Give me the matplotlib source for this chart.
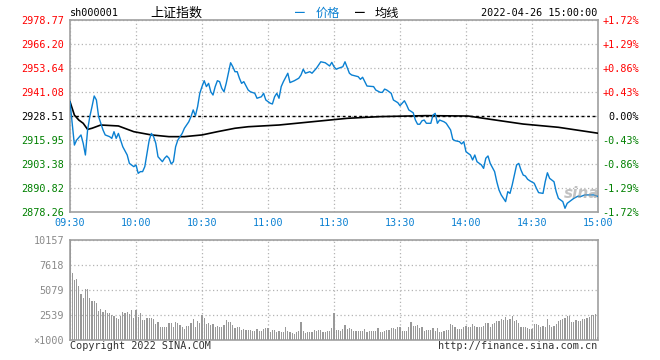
import numpy as np
import matplotlib.pyplot as plt

W, H = 660, 360
MONO = 'DejaVu Sans Mono'
CJK = ['Noto Sans CJK SC', 'DejaVu Sans']

RED = '#ff0000'
GREEN = '#008000'
BLUE = '#0a80d2'
GRID = '#b4b4b4'
FRAME = '#a0a0a0'

# axis values
prev_close = 2928.51
price_ticks = [2878.26, 2890.82, 2903.38, 2915.95, 2928.51, 2941.08, 2953.64, 2966.20, 2978.77]
pct_ticks = [-1.72, -1.29, -0.86, -0.43, 0.00, 0.43, 0.86, 1.29, 1.72]
pct_labels = ['-1.72%', '-1.29%', '-0.86%', '-0.43%', '0.00%', '+0.43%', '+0.86%', '+1.29%', '+1.72%']
time_ticks = [0, 30, 60, 90, 120, 150, 180, 210, 240]
time_labels = ['09:30', '10:00', '10:30', '11:00', '11:30', '13:30', '14:00', '14:30', '15:00']
vol_ticks = [0, 2539, 5079, 7618, 10157]
vol_labels = ['\u00d71000', '2539', '5079', '7618', '10157']

# price line (trading minute, price)
price_min = [0, 2, 3, 5, 6, 7, 8, 9, 10, 11, 12, 13, 14, 15, 16, 18, 19, 20, 21, 22,
             23, 24, 26, 27, 29, 30, 31, 32, 33, 34, 35, 36, 37, 38, 39, 40, 42, 43, 44, 45,
             46, 47, 48, 49, 51, 52, 54, 55, 56, 57, 58, 59, 60, 61, 62, 63, 64, 65, 66, 67,
             68, 69, 70, 71, 72, 73, 74, 75, 76, 77, 78, 79, 81, 82, 84, 85, 87, 88, 89, 91,
             92, 93, 94, 95, 96, 97, 99, 100, 102, 104, 105, 106, 107, 109, 110, 112, 114, 116, 118, 119,
             120, 121, 122, 124, 125, 127, 128, 131, 132, 133, 134, 135, 138, 139, 141, 142, 143, 144, 146, 147,
             149, 150, 151, 152, 153, 154, 156, 157, 158, 159, 160, 161, 162, 164, 165, 166, 167, 168, 170, 171,
             173, 174, 175, 177, 178, 179, 180, 182, 183, 184, 185, 187, 188, 189, 190, 191, 193, 194, 195, 196,
             198, 199, 200, 201, 202, 203, 204, 205, 206, 207, 208, 209, 211, 212, 213, 215, 216, 217, 218, 220,
             221, 222, 224, 225, 226, 228, 229, 231, 232, 234, 238, 240]
price_val = [2936.0, 2913.3, 2915.9, 2918.6, 2914.2, 2908.1, 2921.2, 2928.2, 2933.4, 2939.0,
             2936.9, 2928.2, 2924.7, 2921.2, 2918.6, 2917.7, 2916.8, 2920.3, 2916.8, 2919.4,
             2915.9, 2912.4, 2908.1, 2903.7, 2902.0, 2902.9, 2898.5, 2899.4, 2899.4, 2902.0,
             2909.0, 2915.9, 2919.4, 2917.7, 2914.2, 2907.2, 2904.6, 2906.4, 2907.6, 2906.4,
             2903.4, 2904.6, 2912.4, 2915.9, 2919.4, 2922.1, 2925.5, 2928.2, 2931.7, 2928.6,
             2933.4, 2940.4, 2943.9, 2947.0, 2943.9, 2945.6, 2941.2, 2939.5, 2943.9, 2947.0,
             2946.5, 2943.0, 2941.2, 2945.6, 2950.9, 2956.4, 2954.3, 2951.7, 2951.7, 2948.3,
             2945.6, 2946.5, 2942.1, 2941.2, 2940.4, 2937.8, 2938.6, 2940.4, 2936.9, 2935.2,
             2934.8, 2938.6, 2940.4, 2937.8, 2943.9, 2946.5, 2950.9, 2946.0, 2947.0, 2948.3,
             2950.0, 2953.0, 2950.9, 2951.7, 2950.9, 2953.5, 2956.9, 2956.4, 2954.7, 2956.6,
             2954.3, 2953.0, 2953.5, 2954.3, 2956.9, 2950.9, 2950.0, 2949.1, 2947.7, 2948.8,
             2946.5, 2944.2, 2943.9, 2942.1, 2940.9, 2940.9, 2942.6, 2942.1, 2940.4, 2936.9,
             2935.5, 2933.9, 2935.2, 2936.5, 2934.3, 2931.7, 2930.2, 2926.4, 2924.2, 2924.2,
             2926.0, 2926.4, 2924.7, 2924.7, 2929.0, 2929.9, 2924.7, 2926.4, 2925.5, 2924.7,
             2921.2, 2916.3, 2915.6, 2915.1, 2913.9, 2915.1, 2909.8, 2908.1, 2905.5, 2908.1,
             2904.6, 2902.9, 2901.1, 2906.4, 2907.6, 2903.7, 2899.4, 2894.1, 2889.8, 2887.2,
             2883.7, 2888.9, 2888.0, 2892.4, 2897.6, 2902.9, 2903.7, 2900.2, 2897.6, 2897.1,
             2895.4, 2894.6, 2893.3, 2890.7, 2888.4, 2888.0, 2894.1, 2898.8, 2895.9, 2894.1,
             2888.9, 2885.4, 2883.7, 2880.2, 2882.8, 2884.5, 2885.4, 2886.6, 2886.3, 2887.2,
             2887.2, 2886.4]

# average price line
avg_min = [0, 2, 4, 6, 8, 10, 14, 22, 29, 37, 45, 52, 60, 67, 75, 81, 95, 110, 126, 141,
           162, 181, 191, 206, 222, 240]
avg_val = [2936.0, 2929.0, 2926.4, 2924.7, 2921.5, 2922.1, 2923.8, 2923.3, 2920.3, 2918.6,
           2917.7, 2917.7, 2918.6, 2920.3, 2922.1, 2922.9, 2923.8, 2925.5, 2927.3, 2928.2,
           2928.7, 2928.5, 2926.8, 2924.3, 2922.6, 2919.5]

# volume per minute (x1000)
volume = [10157,
          6839, 6094, 6196, 5485, 4672, 4232, 5180, 5180, 4266, 3995,
          3961, 3724, 2946, 3149, 2878, 3047, 2709, 2776, 2539, 2438,
          2201, 2099, 2438, 2810, 2709, 2878, 2641, 3047, 2268, 3047,
          2302, 2776, 2031, 2031, 2268, 2268, 2201, 2099, 1591, 1862,
          1354, 1354, 1287, 1354, 1760, 1693, 1354, 1862, 1693, 1524,
          1354, 1117, 1422, 1422, 1693, 2099, 1354, 1964, 1693, 2539,
          2201, 1625, 1693, 1524, 1625, 1354, 1422,
          1354, 1354, 1524, 2031, 1828, 1828, 1524, 1219, 1354, 1354,
          1016, 1117, 1016, 1016, 1016, 914, 914, 1117, 914, 914,
          1117, 1219, 1219, 812, 1016, 1016, 812, 914, 812, 812,
          1287, 914, 812, 677, 575, 812, 914, 1862, 914, 677,
          812, 812, 812, 1016, 914, 1016, 1016, 812, 812, 914,
          914, 1185, 2776, 1016, 1016, 948, 1083, 1524, 1117, 1219,
          1117, 914, 914, 914, 914, 914, 1117, 812, 914, 914,
          914, 914, 1219, 812, 812, 914, 1016, 1016, 1219, 1219,
          1117, 1287, 1354, 914, 914, 914, 1287, 1794, 1422, 1422,
          1490, 1219, 1287, 948, 1016, 1016, 1016, 1219, 914, 1219,
          846, 846, 914, 1016, 1016, 1591, 1524, 1354, 1117, 1117,
          1117, 1287, 1422, 1354, 1287, 1591, 1422, 1287, 1287, 1287,
          1422, 1760, 1760, 1354, 1591, 1760, 1964, 1964, 2099, 2031,
          2370, 2031, 2099, 2438, 1964, 2031, 1693, 1354, 1354, 1287,
          1185, 1117, 1117, 1591, 1591, 1524, 1354, 1422, 1354, 2099,
          1524, 1287, 1422, 1591, 1964, 2031, 2099, 2201, 2438, 2438,
          1862, 1862, 2031, 1964, 1964, 2099, 2099, 2201, 2302, 2539,
          2539, 2641, 338]


def fx(px):
    return px / W


def fy(py):
    return 1 - py / H


fig = plt.figure(figsize=(W / 100, H / 100), dpi=100)
fig.patch.set_facecolor('white')

# ---- price panel
ax = fig.add_axes([fx(70), fy(212), 528 / W, 192 / H])
ax.set_xlim(0, 240)
ax.set_ylim(price_ticks[0], price_ticks[-1])
for s in ax.spines.values():
    s.set_color(FRAME)
    s.set_linewidth(1.2)

ax.set_xticks(time_ticks)
ax.set_xticklabels(time_labels, fontfamily=MONO, fontsize=7.3, color=BLUE)
ax.set_yticks(price_ticks)
ax.set_yticklabels(['%.2f' % p for p in price_ticks], fontfamily=MONO, fontsize=7.3)
for lab, p in zip(ax.get_yticklabels(), price_ticks):
    lab.set_color(RED if p > prev_close + 0.01 else (GREEN if p < prev_close - 0.01 else 'black'))
ax.tick_params(length=0, pad=4.5)
ax.tick_params(axis='y', pad=4.3)
ax.grid(True, color=GRID, linestyle=(0, (1, 2)), linewidth=0.9)
ax.set_axisbelow(True)

ax.axhline(prev_close, color='black', linestyle=(0, (2, 2)), linewidth=1.0, zorder=2)
ax.plot(avg_min, avg_val, color='black', linewidth=1.2, zorder=3)
ax.plot(price_min, price_val, color=BLUE, linewidth=1.0, zorder=4)

axr = ax.twinx()
axr.set_ylim(pct_ticks[0], pct_ticks[-1])
axr.set_yticks(pct_ticks)
axr.set_yticklabels(pct_labels, fontfamily=MONO, fontsize=7.3, ha='right')
for lab, p in zip(axr.get_yticklabels(), pct_ticks):
    lab.set_color(RED if p > 0 else (GREEN if p < 0 else 'black'))
axr.tick_params(length=0, pad=29.5)
for s in axr.spines.values():
    s.set_visible(False)

# sina watermark
fig.text(fx(582), fy(193), 'sina', fontsize=11, fontweight='bold', style='italic',
         color='#9a9a9a', alpha=0.6, ha='center', va='center')

# ---- volume panel
axv = fig.add_axes([fx(70), fy(340), 528 / W, 100 / H])
axv.set_xlim(0, 240)
axv.set_ylim(0, vol_ticks[-1])
axv.bar(np.arange(len(volume)), volume, width=0.5, color='#999999', linewidth=0, zorder=3)
for s in axv.spines.values():
    s.set_color(FRAME)
    s.set_linewidth(1.2)
axv.set_xticks(time_ticks)
axv.set_xticklabels([])
axv.set_yticks(vol_ticks)
axv.set_yticklabels(vol_labels, fontfamily=MONO, fontsize=7.3, color='#8a8a8a')
axv.tick_params(length=0, pad=4.3)
axv.grid(True, color=GRID, linestyle=(0, (1, 2)), linewidth=0.9)
axv.set_axisbelow(True)

# ---- header and footer texts
fig.text(fx(70), fy(13), 'sh000001', fontfamily=MONO, fontsize=7.3, va='center', ha='left')
fig.text(fx(150), fy(13), '上证指数', family=CJK, fontsize=9.4, va='center', ha='left')
fig.text(fx(295), fy(13), '━', family=CJK, fontsize=7, color=BLUE, va='center', ha='left')
fig.text(fx(316), fy(13), '价格', family=CJK, fontsize=8.8, color=BLUE, va='center', ha='left')
fig.text(fx(355), fy(13), '━', family=CJK, fontsize=7, color='black', va='center', ha='left')
fig.text(fx(375), fy(13), '均线', family=CJK, fontsize=8.8, color='black', va='center', ha='left')
fig.text(fx(597), fy(13), '2022-04-26 15:00:00', fontfamily=MONO, fontsize=7.3,
         va='center', ha='right')

fig.text(fx(70), fy(346), 'Copyright 2022 SINA.COM', fontfamily=MONO, fontsize=7.3,
         color='#333333', va='center', ha='left')
fig.text(fx(597), fy(346), 'http://finance.sina.com.cn', fontfamily=MONO, fontsize=7.3,
         color='#333333', va='center', ha='right')

fig.savefig('out.png', dpi=100)
